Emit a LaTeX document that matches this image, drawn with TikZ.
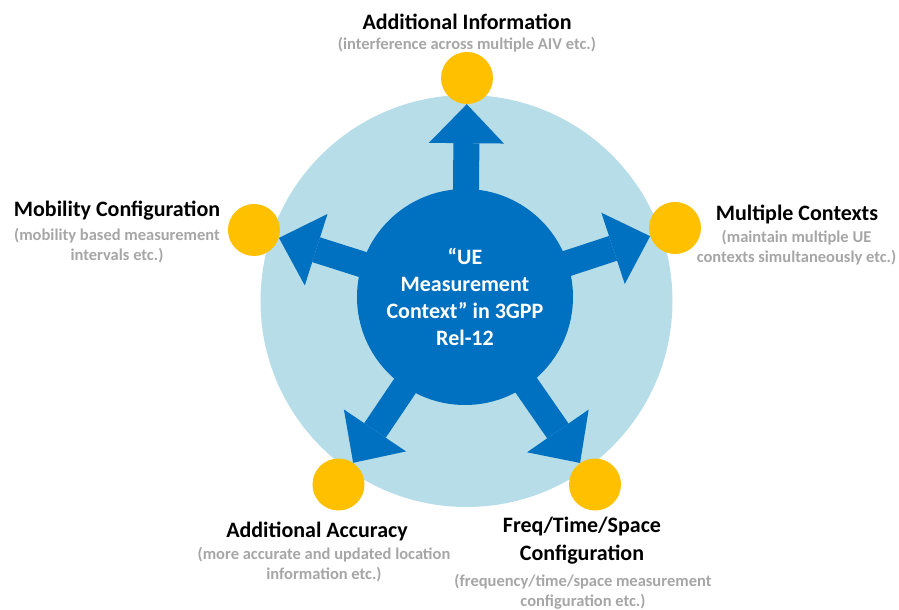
\documentclass[tikz,border=0pt]{standalone}
\usepackage{fontspec}
\setmainfont{Carlito}
\usetikzlibrary{arrows.meta}
\definecolor{ringblue}{HTML}{B7DEE8}
\definecolor{coreblue}{HTML}{0070C0}
\definecolor{dotyellow}{HTML}{FFC000}
\definecolor{notegray}{HTML}{A6A6A6}
\tikzset{
    dot/.style={circle, fill=dotyellow, minimum size=52pt, inner sep=0pt},
    heading/.style={font=\bfseries\fontsize{22}{28}\selectfont, align=center, inner sep=0pt},
    note/.style={font=\bfseries\fontsize{16.5}{20}\selectfont, text=notegray, align=center, inner sep=0pt},
    fatarrow/.style={draw=coreblue, line width=26pt,
        -{Triangle[width=75pt, length=39pt, line width=0pt]}}
}
\begin{document}
\begin{tikzpicture}[x=1pt, y=1pt]
        \def\ringrad{206}
        \def\corerad{108}
        \useasboundingbox (-466.5,-309) rectangle (432.5,301);

        \node[circle, fill=ringblue, minimum size=2*\ringrad pt, inner sep=0pt] (ring) at (0,0) {};
        \coordinate (c) at (-1.5,4);
        \foreach \pos/\name in {{(0.5,223)}/info, {(-212.5,71)}/mob, {(-128,-183.5)}/acc,
                                {(128.5,-183.5)}/freq, {(208.5,73)}/mult}
            \node[dot] (\name) at \pos {};
        \foreach \name in {info, mob, acc, freq, mult}
            \draw[fatarrow] (c) -- (\name);
        \node[circle, fill=coreblue, minimum size=2*\corerad pt, inner sep=0pt,
            text=white, align=center, font=\bfseries\fontsize{22}{27}\selectfont] (ctx) at (c)
            {“UE\\Measurement\\Context” in 3GPP\\Rel-12};

        \node[heading] (infot) at (0.5, 279) {Additional Information};
        \node[note] (infos) at (0.5, 256) {(interference across multiple AIV etc.)};
        \node[heading] (mobt) at (-349.5, 90) {Mobility Configuration};
        \node[note] (mobs) at (-349.5, 55) {(mobility based measurement\\intervals etc.)};
        \node[heading] (multt) at (330.5, 87) {Multiple Contexts};
        \node[note] (mults) at (330, 53.5) {(maintain multiple UE\\contexts simultaneously etc.)};
        \node[heading] (acct) at (-149.5, -230) {Additional Accuracy};
        \node[note] (accs) at (-142.5, -264) {(more accurate and updated location\\information etc.)};
        \node[heading] (freqt) at (115.5, -240) {Freq/Time/Space\\Configuration};
        \node[note] (freqs) at (116.5, -291) {(frequency/time/space measurement\\configuration etc.)};
    \end{tikzpicture}
\end{document}
